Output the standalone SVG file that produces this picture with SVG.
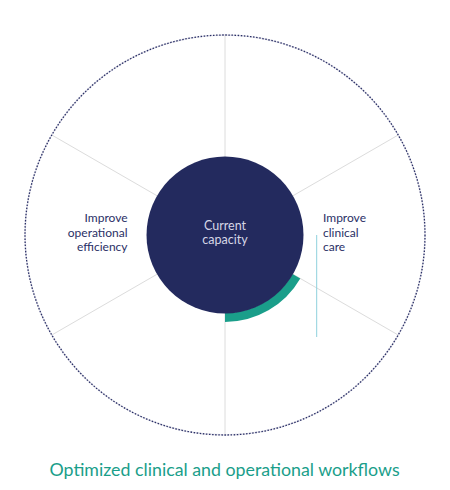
<svg xmlns="http://www.w3.org/2000/svg" width="450" height="490" viewBox="0 0 450 490">
<style>
.spoke{stroke:#dcdcdc;stroke-width:1;fill:none}
.lbl{font-family:Lato,"Liberation Sans",sans-serif;font-size:12px;fill:#2a2f66}
.ctr{font-family:Lato,"Liberation Sans",sans-serif;font-size:12.5px;fill:#d6d7e6}
.foot{font-family:Lato,"Liberation Sans",sans-serif;font-size:17.8px;fill:#1a9e8a}
</style>
<rect width="450" height="490" fill="#ffffff"/>
<g id="connectors">
<line class="spoke" x1="225" y1="235" x2="225" y2="35"/>
<line class="spoke" x1="225" y1="235" x2="225" y2="435"/>
<line class="spoke" x1="225" y1="235" x2="398.2" y2="135"/>
<line class="spoke" x1="225" y1="235" x2="398.2" y2="335"/>
<line class="spoke" x1="225" y1="235" x2="51.8" y2="135"/>
<line class="spoke" x1="225" y1="235" x2="51.8" y2="335"/>
</g>
<g id="outer-ring">
<circle cx="225" cy="235" r="200" fill="none" stroke="#e4e4ec" stroke-width="1.5"/>
<circle cx="225" cy="235" r="200" fill="none" stroke="#2a2f66" stroke-width="1.3" stroke-dasharray="1.5 1.6"/>
</g>
<g id="current-capacity">
<path d="M 296.4 276.25 A 82.5 82.5 0 0 1 225 317.5" fill="none" stroke="#1a9e8a" stroke-width="9"/>
<circle cx="225" cy="235" r="78.5" fill="#232a5e"/>
<text class="ctr" text-anchor="middle"><tspan x="225" y="230">Current</tspan><tspan x="225" y="244">capacity</tspan></text>
</g>
<g id="improve-clinical-care">
<line x1="316.7" y1="235" x2="316.7" y2="337" stroke="#8ed1dd" stroke-width="1"/>
<text class="lbl"><tspan x="323" y="222">Improve</tspan><tspan x="323" y="236.5">clinical</tspan><tspan x="323" y="251">care</tspan></text>
</g>
<g id="improve-operational-efficiency">
<text class="lbl" text-anchor="end"><tspan x="127.5" y="222">Improve</tspan><tspan x="127.5" y="236.5">operational</tspan><tspan x="127.5" y="251">efficiency</tspan></text>
</g>
<g id="footer">
<text class="foot" x="49.5" y="476">Optimized clinical and operational workflows</text>
</g>
</svg>
